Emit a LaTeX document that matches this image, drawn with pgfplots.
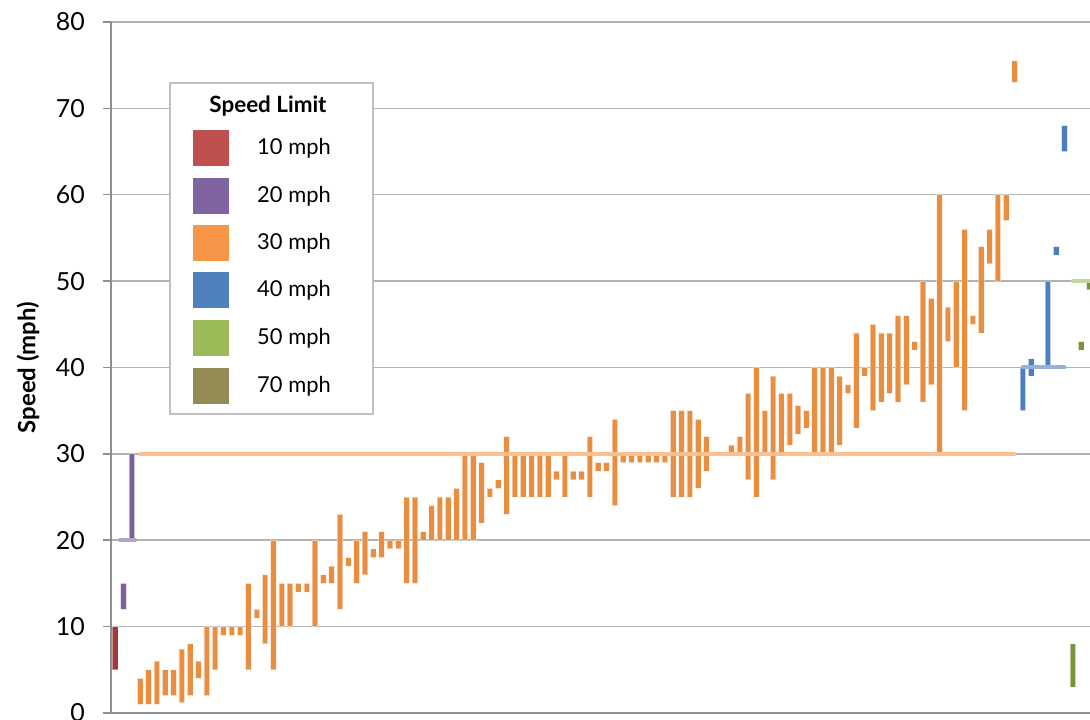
\documentclass[border=0pt]{standalone}
\usepackage{fontspec}
\setmainfont{Lato}
\usepackage{pgfplots}
\usepackage{pgfplotstable}
\pgfplotsset{compat=1.18}

\definecolor{bred}{HTML}{9E3B39}
\definecolor{bpurple}{HTML}{7D5F9F}
\definecolor{borange}{HTML}{E98D41}
\definecolor{bblue}{HTML}{4B7FBE}
\definecolor{bgreen}{HTML}{77933C}
\definecolor{l10}{HTML}{C0504D}
\definecolor{l20}{HTML}{8064A2}
\definecolor{l30}{HTML}{F79646}
\definecolor{l40}{HTML}{4F81BD}
\definecolor{l50}{HTML}{9BBB59}
\definecolor{l70}{HTML}{948A54}
\definecolor{lim20}{HTML}{B3A2C7}
\definecolor{lim30}{HTML}{FAC090}
\definecolor{lim40}{HTML}{95B3D7}
\definecolor{lim50}{HTML}{C3D69B}
\definecolor{gridc}{HTML}{B2B2B2}
\definecolor{axisc}{HTML}{8F8F8F}
\definecolor{legbox}{HTML}{BFBFBF}

% one row per road: lowest and highest speed, group (0=10 mph ... 4=50 mph)
\pgfplotstableread{
x lo hi g
0 5 10 0
1 12 15 1
2 20 30 1
3 1 4 2
4 1 5 2
5 1 6 2
6 2 5 2
7 2 5 2
8 1.2 7.4 2
9 2 8 2
10 4 6 2
11 2 10 2
12 5 10 2
13 9 10 2
14 9 10 2
15 9 10 2
16 5 15 2
17 11 12 2
18 8 16 2
19 5 20 2
20 10 15 2
21 10 15 2
22 14 15 2
23 14 15 2
24 10 20 2
25 15 16 2
26 15 17 2
27 12 23 2
28 17 18 2
29 15 20 2
30 16 21 2
31 18 19 2
32 18 21 2
33 19 20 2
34 19 20 2
35 15 25 2
36 15 25 2
37 20 21 2
38 20 24 2
39 20 25 2
40 20 25 2
41 20 26 2
42 20 30 2
43 20 30 2
44 22 29 2
45 25 26 2
46 26 27 2
47 23 32 2
48 25 30 2
49 25 30 2
50 25 30 2
51 25 30 2
52 25 30 2
53 27 28 2
54 25 30 2
55 27 28 2
56 27 28 2
57 25 32 2
58 28 29 2
59 28 29 2
60 24 34 2
61 29 30 2
62 29 30 2
63 29 30 2
64 29 30 2
65 29 30 2
66 29 30 2
67 25 35 2
68 25 35 2
69 25 35 2
70 26 34 2
71 28 32 2
72 30 30 2
73 30 30 2
74 30 31 2
75 30 32 2
76 27 37 2
77 25 40 2
78 30 35 2
79 27 39 2
80 30 37 2
81 31 37 2
82 32.3 35.6 2
83 33 35 2
84 30 40 2
85 30 40 2
86 30 40 2
87 31 39 2
88 37 38 2
89 33 44 2
90 39 40 2
91 35 45 2
92 36 44 2
93 37 44 2
94 36 46 2
95 38 46 2
96 42 43 2
97 36 50 2
98 38 48 2
99 30 60 2
100 43 47 2
101 40 50 2
102 35 56 2
103 45 46 2
104 44 54 2
105 52 56 2
106 50 60 2
107 57 60 2
108 73 75.5 2
109 35 40 3
110 39 41 3
111 40 40 3
112 40 50 3
113 53 54 3
114 65 68 3
115 3 8 4
116 42 43 4
117 49 50 4
}\speeds

\pgfplotsset{
  frame/.style={
    at={(111bp,7bp)}, anchor=south west,
    scale only axis, width=979bp, height=691bp,
    xmin=-0.5, xmax=117.06, ymin=0, ymax=80,
  },
}

\newcommand{\grpplot}[2]{%
  \addplot[fill=#2, draw=white, draw opacity=0.45, line width=0.8bp]
    table[x=x, y expr={ifthenelse(\thisrow{g}==#1,\thisrow{hi}-\thisrow{lo},0)}] {\speeds};
}

\begin{document}
\begin{tikzpicture}
\path[use as bounding box] (0,0) rectangle (1090bp,720bp);

\begin{axis}[
  frame,
  ybar stacked, bar width=5.6bp,
  axis x line*=bottom, axis y line*=left,
  axis line style={axisc, line width=1.5bp},
  xtick=\empty,
  ytick={0,10,...,80},
  tick align=outside,
  major tick length=8bp,
  ytick style={axisc, line width=1.5bp},
  ymajorgrids,
  grid style={gridc, line width=1.5bp},
  /pgf/number format/assume math mode=true,
  yticklabel style={font=\fontsize{25}{30}\selectfont, inner sep=0pt, xshift=-18bp},
  ylabel={Speed (mph)},
  every axis y label/.style={at={(axis description cs:-0.0848,0.5)},
    rotate=90, anchor=center, font=\fontsize{24}{29}\selectfont\bfseries},
]
\addplot[draw=none, fill=none] table[x=x, y=lo] {\speeds};
\grpplot{0}{bred}
\grpplot{1}{bpurple}
\grpplot{2}{borange}
\grpplot{3}{bblue}
\grpplot{4}{bgreen}
\end{axis}

% speed limit lines, drawn over the bars
\begin{axis}[frame, hide axis]
\addplot[lim20, line width=4bp, line cap=round] coordinates {(0.6,20) (2.4,20)};
\addplot[lim30, line width=4bp, line cap=round] coordinates {(3,30) (108,30)};
\addplot[lim40, line width=4bp, line cap=round] coordinates {(109,40) (114,40)};
\addplot[lim50, line width=4bp, line cap=round] coordinates {(115,50) (118,50)};
\end{axis}

% legend
\draw[legbox, line width=1.5bp, fill=white] (170bp,306bp) rectangle (373bp,637bp);
\node[font=\fontsize{22.5}{27}\selectfont\bfseries] at (268bp,614bp) {Speed Limit};
\fill[l10] (193bp,554bp) rectangle (229bp,590bp);
\fill[l20] (193bp,506bp) rectangle (229bp,542bp);
\fill[l30] (193bp,459bp) rectangle (229bp,495bp);
\fill[l40] (193bp,411.5bp) rectangle (229bp,447.5bp);
\fill[l50] (193bp,364bp) rectangle (229bp,400bp);
\fill[l70] (193bp,316bp) rectangle (229bp,352bp);
\begin{scope}[every node/.style={anchor=east, inner sep=0pt, font=\fontsize{22}{26}\selectfont}]
\node at (331bp,572bp) {10 mph};
\node at (331bp,524bp) {20 mph};
\node at (331bp,477bp) {30 mph};
\node at (331bp,429.5bp) {40 mph};
\node at (331bp,382bp) {50 mph};
\node at (331bp,334bp) {70 mph};
\end{scope}
\end{tikzpicture}
\end{document}
